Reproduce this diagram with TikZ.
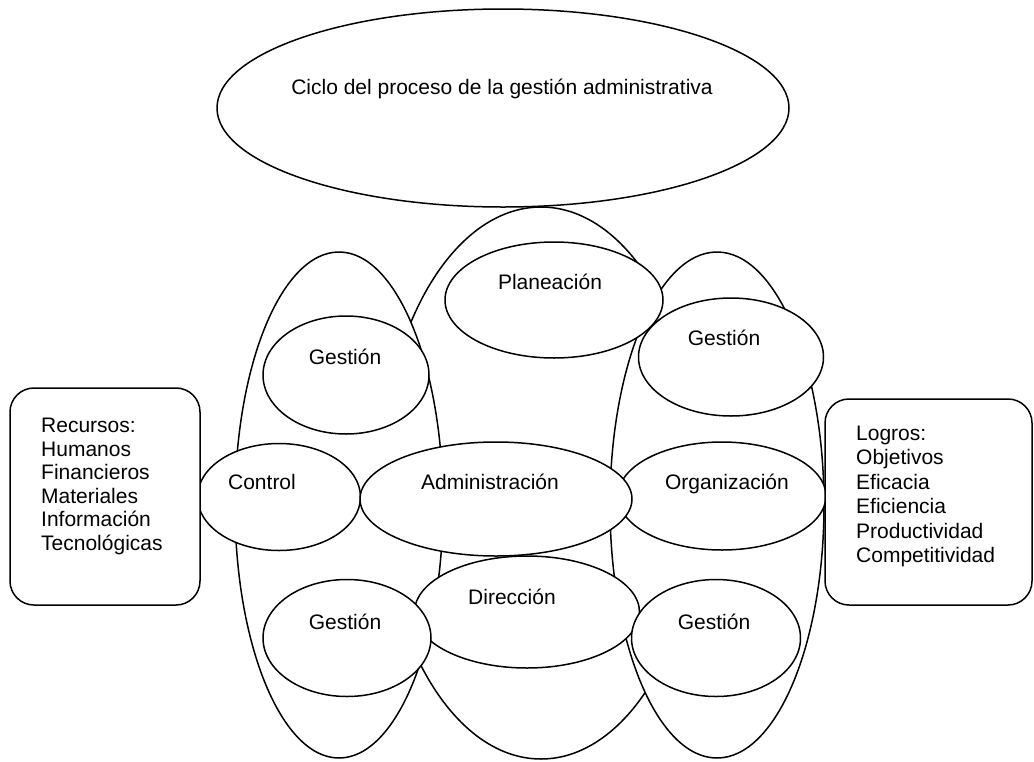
\documentclass[tikz,border=0pt]{standalone}
\usepackage{fontspec}
\setmainfont{Liberation Sans}
\usetikzlibrary{shapes.geometric}
\begin{document}
\begin{tikzpicture}[x=1pt,y=-1pt,
  ell/.style={ellipse, draw, fill=white, line width=1.5pt, inner sep=0pt},
  rbox/.style={rectangle, rounded corners=24pt, draw, fill=white, line width=1.5pt, inner sep=0pt},
  lbl/.style={font=\fontsize{21}{24}\selectfont, inner sep=0pt, anchor=base},
  list/.style={inner sep=0pt, anchor=base west}]
\useasboundingbox (0,0) rectangle (1034,761);
% title ellipse
\node[ell, minimum width=572pt, minimum height=198pt] (ciclo) at (503,108) {};
% tall ellipses
\node[ell, minimum width=320pt, minimum height=552pt] (midT) at (541,483) {};
\node[ell, minimum width=208pt, minimum height=506pt] (leftT) at (339,505) {};
\node[ell, minimum width=214pt, minimum height=506pt] (rightT) at (717,505) {};
% small ellipses
\node[ell, minimum width=218pt, minimum height=116pt] (plan) at (554,300) {};
\node[ell, minimum width=166pt, minimum height=118pt] (gLT) at (346,375) {};
\node[ell, minimum width=185pt, minimum height=118pt] (gRT) at (731,357) {};
\node[ell, minimum width=163pt, minimum height=107pt] (ctrl) at (279,497) {};
\node[ell, minimum width=208pt, minimum height=108pt] (org) at (722,496) {};
\node[ell, minimum width=272pt, minimum height=114pt] (adm) at (496,499) {};
\node[ell, minimum width=225pt, minimum height=112pt] (dir) at (527,612) {};
\node[ell, minimum width=168pt, minimum height=117pt] (gLB) at (347,638) {};
\node[ell, minimum width=169pt, minimum height=117pt] (gRB) at (716,638) {};
% boxes
\node[rbox, minimum width=190pt, minimum height=217pt] (rec) at (105,496.5) {};
\node[rbox, minimum width=207pt, minimum height=206pt] (log) at (928.5,502) {};
% labels
\node[lbl] (tciclo) at (502,94.5) {Ciclo del proceso de la gestión administrativa};
\node[lbl] (tplan) at (550,289.5) {Planeación};
\node[lbl] (tgLT) at (345,364.5) {Gestión};
\node[lbl] (tgRT) at (724,345.5) {Gestión};
\node[lbl] (tctrl) at (262,489.5) {Control};
\node[lbl] (tadm) at (490,489.5) {Administración};
\node[lbl] (torg) at (727,489.5) {Organización};
\node[lbl] (tdir) at (512,604.5) {Dirección};
\node[lbl] (tgLB) at (345,629.5) {Gestión};
\node[lbl] (tgRB) at (714,629.5) {Gestión};
\node[list] (trec) at (41,432.5) {\fontsize{21}{23.6}\selectfont\begin{tabular}[t]{@{}l@{}}Recursos:\\Humanos\\Financieros\\Materiales\\Información\\Tecnológicas\end{tabular}};
\node[list] (tlog) at (856,440.5) {\fontsize{21}{24.4}\selectfont\begin{tabular}[t]{@{}l@{}}Logros:\\Objetivos\\Eficacia\\Eficiencia\\Productividad\\Competitividad\end{tabular}};
\end{tikzpicture}
\end{document}
